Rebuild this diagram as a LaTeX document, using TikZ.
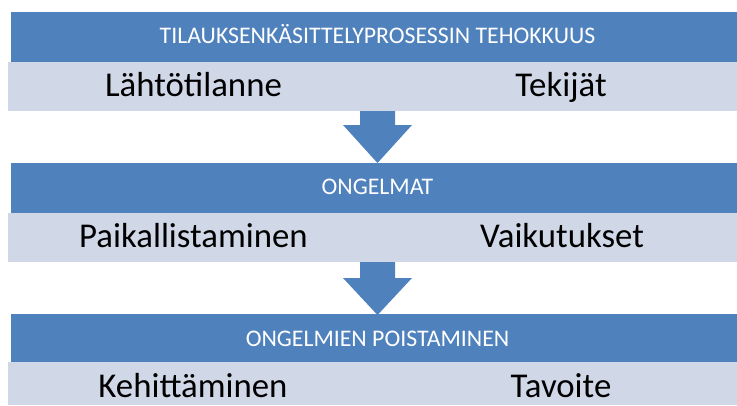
\documentclass[tikz,border=0pt]{standalone}
\usepackage{fontspec}
\setmainfont{Carlito}
\definecolor{hdrblue}{HTML}{4F81BD}
\definecolor{rowgray}{HTML}{D0D8E8}
\tikzset{
  hdrbar/.style={fill=hdrblue, draw=none, inner sep=0pt},
  rowbar/.style={fill=rowgray, draw=none, inner sep=0pt},
  hdrtext/.style={text=white, font=\fontsize{23.8}{26}\selectfont, anchor=base, inner sep=0pt},
  rowtext/.style={text=black, font=\fontsize{34.8}{38}\selectfont, anchor=base, inner sep=0pt},
  downarrow/.style={fill=hdrblue, draw=none}
}
\begin{document}
\begin{tikzpicture}[x=1pt,y=-1pt]
\useasboundingbox (0,0) rectangle (737,405);
% arrows
\fill[downarrow] (360,110) -- (395,110) -- (395,125) -- (412,125) -- (377.5,163) -- (343,125) -- (360,125) -- cycle;
\fill[downarrow] (360,261) -- (395,261) -- (395,278) -- (412,278) -- (377.5,315) -- (343,278) -- (360,278) -- cycle;
% bars
\path[hdrbar] (11,12) rectangle (737,62) node[pos=0.5,inner sep=0pt] (h1) {};
\path[rowbar] (8,62) rectangle (737,111) node[pos=0.5,inner sep=0pt] (r1) {};
\path[hdrbar] (11,163) rectangle (737,213) node[pos=0.5,inner sep=0pt] (h2) {};
\path[rowbar] (8,213) rectangle (737,262) node[pos=0.5,inner sep=0pt] (r2) {};
\path[hdrbar] (11,314) rectangle (737,362) node[pos=0.5,inner sep=0pt] (h3) {};
\path[rowbar] (8,362) rectangle (737,405) node[pos=0.5,inner sep=0pt] (r3) {};
% texts
\node[hdrtext] (t1) at (377.5,43.3) {TILAUKSENKÄSITTELYPROSESSIN TEHOKKUUS};
\node[rowtext] (a1) at (193.5,96.7) {Lähtötilanne};
\node[rowtext] (b1) at (561,96.7) {Tekijät};
\node[hdrtext] (t2) at (377.5,194.5) {ONGELMAT};
\node[rowtext] (a2) at (193.5,247.7) {Paikallistaminen};
\node[rowtext] (b2) at (562,247.7) {Vaikutukset};
\node[hdrtext] (t3) at (377.5,346.7) {ONGELMIEN POISTAMINEN};
\node[rowtext] (a3) at (193,397.7) {Kehittäminen};
\node[rowtext] (b3) at (561,397.7) {Tavoite};
\end{tikzpicture}
\end{document}
